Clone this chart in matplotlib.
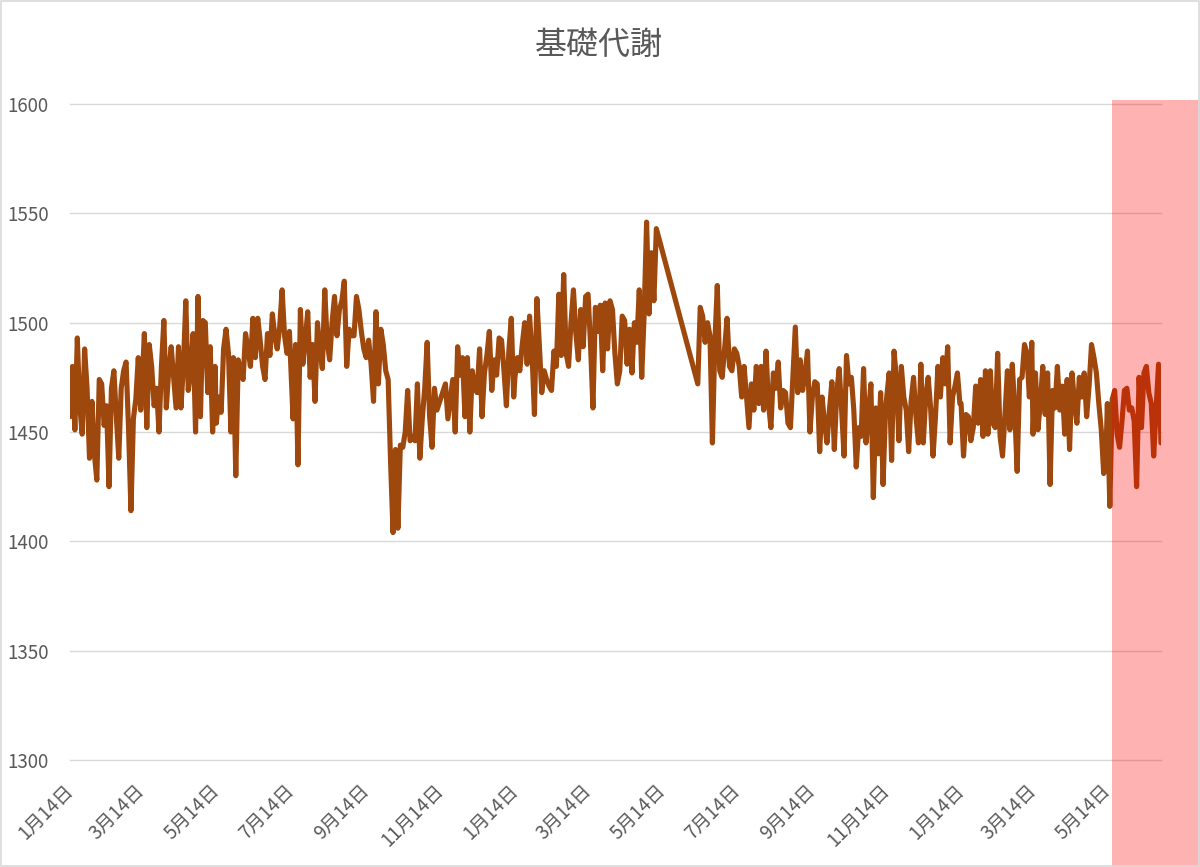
import matplotlib
matplotlib.use("Agg")
import matplotlib.pyplot as plt
import matplotlib.dates as mdates
from matplotlib.patches import Rectangle
from matplotlib.ticker import FuncFormatter
import pandas as pd

plt.rcParams['font.family'] = ['Noto Sans CJK JP', 'DejaVu Sans']

title = "基礎代謝"

# 2日ごとの計測値（区間ごと、開始日つき）
seg_2019_01 = [1457, 1480, 1451, 1493, 1462, 1449, 1488, 1470, 1438, 1464, 1440, 1428, 1474, 1472, 1453,
               1462, 1425, 1470, 1478, 1457, 1438, 1470, 1478, 1482, 1452, 1414, 1456, 1465, 1484, 1460]
seg_2019_03 = [1470, 1495, 1452, 1490, 1480, 1462, 1470, 1450, 1480, 1501, 1461, 1478, 1489, 1475, 1461,
               1489, 1461, 1480, 1510, 1469, 1478, 1495, 1450, 1512, 1457, 1501, 1500, 1468, 1489, 1450, 1480]
seg_2019_05 = [1454, 1466, 1459, 1488, 1497, 1486, 1450, 1484, 1430, 1483, 1478, 1474, 1495, 1488, 1480,
               1502, 1484, 1502, 1492, 1480, 1474, 1495, 1485, 1504, 1494, 1488, 1498, 1515, 1494, 1486, 1496]
seg_2019_07 = [1482, 1456, 1490, 1435, 1506, 1481, 1492, 1505, 1475, 1490, 1464, 1500, 1488, 1479, 1515,
               1491, 1483, 1500, 1512, 1494, 1506, 1510, 1519, 1480, 1497, 1494, 1494, 1512, 1506, 1496, 1488]
seg_2019_09 = [1484, 1492, 1481, 1464, 1505, 1472, 1497, 1490, 1478, 1474, 1436, 1404, 1442, 1406, 1444,
               1443, 1450, 1469, 1446, 1448, 1446, 1472, 1438, 1456, 1470, 1491, 1457, 1443, 1470, 1460]
seg_2019_11 = [1472, 1456, 1465, 1474, 1450, 1489, 1476, 1484, 1457, 1484, 1450, 1478, 1470, 1468, 1488,
               1457, 1477, 1485, 1496, 1469, 1483, 1476, 1493, 1492, 1478, 1462, 1487, 1502, 1466]
seg_2020_01 = [1475, 1484, 1478, 1490, 1500, 1481, 1503, 1486, 1458, 1511, 1490, 1468, 1478, 1474, 1471,
               1469, 1487, 1480, 1513, 1485, 1522, 1486, 1480, 1500, 1515, 1495, 1483, 1506, 1489, 1512]
seg_2020_03 = [1513, 1490, 1461, 1507, 1496, 1508, 1478, 1509, 1488, 1510, 1506, 1486, 1472, 1478, 1503,
               1501, 1481, 1497, 1477, 1500, 1491, 1515, 1475, 1504, 1546, 1504, 1532, 1510, 1543]
seg_2020_06 = [1472, 1507, 1503, 1491, 1500, 1494, 1445, 1491, 1517, 1478, 1475, 1488, 1502, 1480, 1478, 1488]
seg_2020_07 = [1486, 1480, 1466, 1480, 1466, 1452, 1472, 1460, 1480, 1463, 1480, 1460, 1487, 1463, 1452,
               1477, 1470, 1482, 1461, 1469, 1468, 1454, 1452, 1475, 1498, 1468, 1483, 1469, 1477, 1487, 1450]
seg_2020_09 = [1466, 1473, 1472, 1441, 1466, 1454, 1445, 1460, 1473, 1442, 1468, 1479, 1460, 1439, 1485,
               1472, 1475, 1460, 1434, 1452, 1448, 1479, 1445, 1458, 1472, 1420, 1461, 1440, 1468, 1426, 1460]
seg_2020_11 = [1466, 1477, 1437, 1487, 1474, 1446, 1480, 1466, 1460, 1441, 1464, 1475, 1457, 1445, 1481,
               1445, 1466, 1475, 1461, 1439, 1457, 1480, 1466, 1484, 1472, 1489, 1445, 1466, 1471, 1477, 1463]
seg_2021_01 = [1463, 1439, 1458, 1457, 1446, 1452, 1471, 1454, 1474, 1448, 1478, 1449, 1478, 1454, 1452,
               1486, 1448, 1439, 1458, 1478, 1451, 1481, 1460, 1432, 1474, 1475, 1490, 1486, 1466, 1491]
seg_2021_03 = [1449, 1477, 1451, 1463, 1480, 1458, 1477, 1426, 1469, 1461, 1480, 1460, 1471, 1449, 1474,
               1442, 1477, 1464, 1454, 1475, 1466, 1477, 1457, 1471, 1490, 1484, 1477, 1463, 1451, 1431, 1443]
seg_2021_05 = [1463, 1416, 1465, 1469, 1449, 1443, 1455, 1469, 1470, 1460, 1461, 1455, 1425, 1475, 1452,
               1477, 1480, 1468, 1463, 1439, 1461, 1481, 1445]

segments = [
    ("2019-01-14", seg_2019_01), ("2019-03-14", seg_2019_03), ("2019-05-14", seg_2019_05),
    ("2019-07-14", seg_2019_07), ("2019-09-14", seg_2019_09), ("2019-11-18", seg_2019_11),
    ("2020-01-14", seg_2020_01), ("2020-03-14", seg_2020_03), ("2020-06-12", seg_2020_06),
    ("2020-07-14", seg_2020_07), ("2020-09-14", seg_2020_09), ("2020-11-14", seg_2020_11),
    ("2021-01-14", seg_2021_01), ("2021-03-14", seg_2021_03), ("2021-05-14", seg_2021_05),
]

highlight_start = "2021-05-18"

dates, values = [], []
for start, vals in segments:
    dates.extend(pd.date_range(start, periods=len(vals), freq="2D"))
    values.extend(vals)

text_color = '#595959'

fig = plt.figure(figsize=(12, 8.67), dpi=100)
ax = fig.add_axes([70 / 1200, 1 - 760 / 867, (1161 - 70) / 1200, (760 - 104) / 867])

ax.plot(dates, values, color='#9E480E', lw=3.7, solid_joinstyle='round', solid_capstyle='round')

ax.set_ylim(1300, 1600)
ax.set_yticks(range(1300, 1601, 50))
ax.set_xlim(dates[0], dates[-1])
ax.grid(axis='y', color='#D9D9D9', lw=1)
ax.set_axisbelow(True)
for line in ax.get_ygridlines():
    line.set_clip_on(False)
for s in ax.spines.values():
    s.set_visible(False)

ax.xaxis.set_major_locator(mdates.MonthLocator(bymonth=[1, 3, 5, 7, 9, 11], bymonthday=14))
ax.xaxis.set_major_formatter(FuncFormatter(
    lambda v, p: f"{mdates.num2date(v).month}月{mdates.num2date(v).day}日"))

ax.tick_params(axis='both', length=0, labelsize=13.5, labelcolor=text_color)
ax.tick_params(axis='y', pad=45)
ax.tick_params(axis='x', pad=20)
plt.setp(ax.get_yticklabels(), ha='left')
plt.setp(ax.get_xticklabels(), rotation=45, ha='right', va='center', rotation_mode='anchor')

fig.text(0.499, 1 - 45 / 867, title, ha='center', va='center', fontsize=23, color=text_color)

# 強調範囲
x0 = mdates.date2num(pd.Timestamp(highlight_start))
x1 = mdates.date2num(pd.Timestamp("2021-09-30"))
ax.add_patch(Rectangle((x0, 1602), x1 - x0, -500, facecolor=(1, 0, 0, 0.3),
                       edgecolor='none', clip_on=False, zorder=5))

fig.patches.append(Rectangle((0.0005, 0.0008), 0.999, 0.9985, transform=fig.transFigure,
                             fill=False, edgecolor='#D9D9D9', lw=1.2))

fig.savefig('out.png', dpi=100)
